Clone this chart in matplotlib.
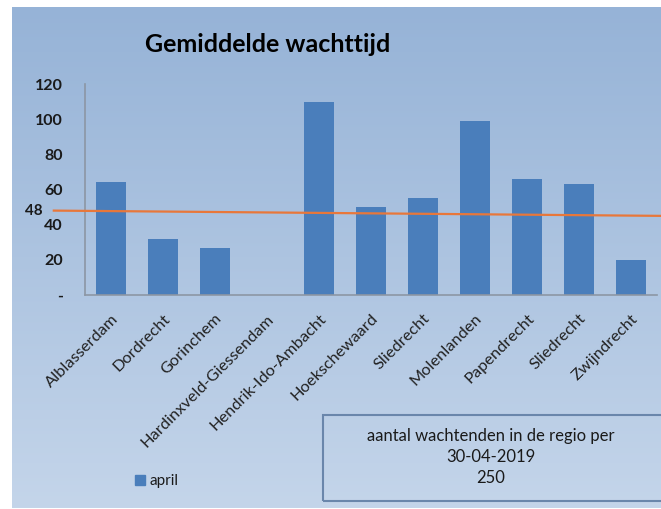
import numpy as np
import matplotlib
matplotlib.use('Agg')
import matplotlib.pyplot as plt
from matplotlib.patches import Rectangle

# data
gemeenten = ['Alblasserdam', 'Dordrecht', 'Gorinchem', 'Hardinxveld-Giessendam',
             'Hendrik-Ido-Ambacht', 'Hoekschewaard', 'Sliedrecht', 'Molenlanden',
             'Papendrecht', 'Sliedrecht', 'Zwijndrecht']
wachttijd_april = [64, 32, 27, 0, 110, 50, 55, 99, 66, 63, 20]
gemiddelde_start = 48
gemiddelde_eind = 45
yticks = [0, 20, 40, 60, 80, 100, 120]
ytick_labels = ['-', '20', '40', '60', '80', '100', '120']
info_regels = ['aantal wachtenden in de regio per', '30-04-2019', '250']

W, H = 661, 509
plt.rcParams['font.family'] = ['Lato', 'DejaVu Sans']
fig = plt.figure(figsize=(W / 100, H / 100), dpi=100)
fig.patch.set_facecolor('white')

# blue gradient panel behind the chart
bg = fig.add_axes([12 / W, 1 / H, 1 - 12 / W, 501 / H], zorder=0)
top = np.array([150, 179, 215]) / 255
bot = np.array([196, 213, 234]) / 255
t = np.linspace(0, 1, 256)[:, None]
grad = top[None, :] * (1 - t) + bot[None, :] * t
bg.imshow(grad[:, None, :], aspect='auto', extent=[0, 1, 0, 1])
bg.set_axis_off()

ax = fig.add_axes([85 / W, (H - 295) / H, (657 - 85) / W, (295 - 84) / H], zorder=1)
ax.patch.set_alpha(0)

x = np.arange(len(gemeenten))
ax.bar(x, wachttijd_april, width=0.58, color='#4a7ebb', label='april', zorder=2)
ax.set_xlim(-0.5, len(gemeenten) - 0.5)
ax.set_ylim(0, 120)

# average line, runs a bit outside the plot area
ax.plot([-1.1, len(gemeenten) - 0.4], [gemiddelde_start, gemiddelde_eind],
        color='#e8773a', lw=1.6, clip_on=False, zorder=3)
ax.text(-1.32, gemiddelde_start, str(gemiddelde_start), ha='right', va='center',
        fontsize=11, fontweight='bold', color='#1a1a1a', clip_on=False)

for s in ['top', 'right']:
    ax.spines[s].set_visible(False)
for s in ['left', 'bottom']:
    ax.spines[s].set_color('#8c96a4')
    ax.spines[s].set_linewidth(1.2)

ax.set_yticks(yticks)
ax.set_yticklabels(ytick_labels, fontsize=11.5, fontweight='bold', color='#1a1a1a')
ax.tick_params(axis='y', length=0, pad=16)
ax.set_xticks(x)
ax.set_xticklabels(gemeenten, rotation=45, ha='right', rotation_mode='anchor',
                   fontsize=11.8, color='#222222')
ax.tick_params(axis='x', length=0, pad=12)

fig.text(268 / W, 1 - 45 / H, 'Gemiddelde wachttijd', ha='center', va='center',
         fontsize=18, fontweight='bold', color='black')

# legend
fig.patches.append(Rectangle((135 / W, 1 - 485 / H), 10 / W, 10 / H,
                             transform=fig.transFigure, color='#4a7ebb', zorder=2))
fig.text(150 / W, 1 - 481 / H, 'april', ha='left', va='center', fontsize=11, color='#1a1a1a')

# info box
fig.patches.append(Rectangle((323 / W, 1 - 501 / H), 360 / W, 86 / H,
                             transform=fig.transFigure, facecolor='none',
                             edgecolor='#6a86ab', lw=1.5, zorder=2))
for regel, yy in zip(info_regels, [436, 457, 478]):
    fig.text(491 / W, 1 - yy / H, regel, ha='center', va='center',
             fontsize=12, color='#1a1a1a')

fig.savefig('out.png', dpi=100)
